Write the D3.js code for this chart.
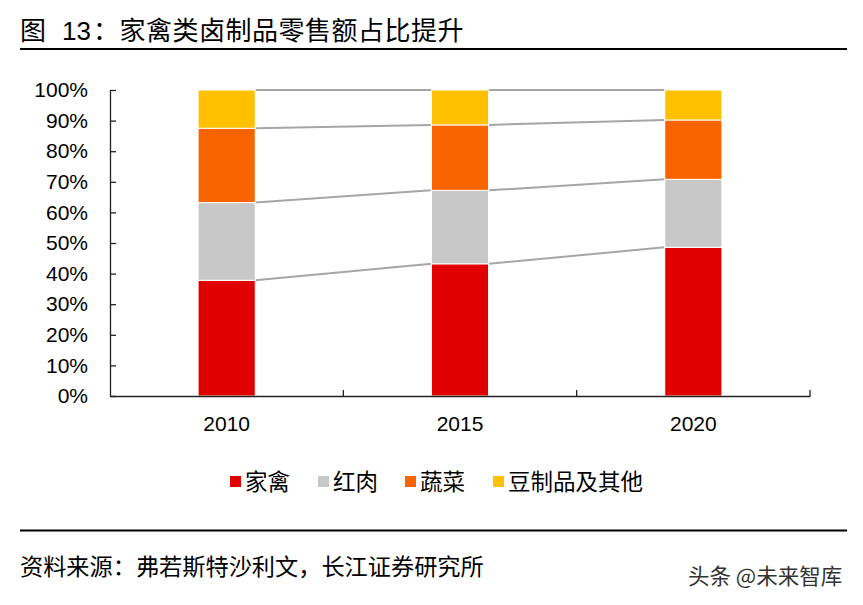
<!DOCTYPE html>
<html><head><meta charset="utf-8">
<script src="https://cdn.jsdelivr.net/npm/d3@7"></script>
<style>body{margin:0;background:#fff;} svg{display:block;}</style>
</head><body>
<svg id="c" width="863" height="605"></svg>
<script>
const years = ["2010", "2015", "2020"];
const seriesNames = ["家禽", "红肉", "蔬菜", "豆制品及其他"];
const poultry = [37.8, 43.2, 48.6];
const redMeat = [25.4, 24.0, 22.2];
const vegetables = [24.3, 21.4, 19.4];
const others = [12.5, 11.4, 9.8];
const yTicks = [0, 10, 20, 30, 40, 50, 60, 70, 80, 90, 100];
const colors = ["#E00000", "#C8C8C8", "#FA6400", "#FFC000"];

(function () {
const seriesVals = [poultry, redMeat, vegetables, others];
const rows = years.map((yr, i) => {
  const r = {year: yr};
  seriesNames.forEach((n, k) => r[n] = seriesVals[k][i]);
  return r;
});
const stacked = d3.stack().keys(seriesNames)(rows);

const svg = d3.select("#c");
const font = "'Liberation Sans', Arial, 'Noto Sans CJK SC', sans-serif";
const cjk = "'Noto Sans CJK SC', sans-serif";

// Title
const title = svg.append("text").attr("y", 40).attr("font-family", cjk)
  .attr("font-size", 26).attr("fill", "#000");
title.append("tspan").attr("x", 20).text("图");
title.append("tspan").attr("x", 62).attr("font-family", font).text("13");
title.append("tspan").attr("x", 93).attr("letter-spacing", 0.5).text("：家禽类卤制品零售额占比提升");
svg.append("line").attr("x1", 20).attr("x2", 847).attr("y1", 49).attr("y2", 49)
  .attr("stroke", "#000").attr("stroke-width", 2.2);

const pL = 110, pR = 810, pT = 90, pB = 396;
const x = d3.scaleBand().domain(years).range([pL, pR]).paddingInner(0.755).paddingOuter(0.3775);
const y = d3.scaleLinear().domain([0, 100]).range([pB, pT]);

// Connector lines
const bw = x.bandwidth();
const g = svg.append("g");
stacked.forEach(s => {
  for (let i = 0; i < years.length - 1; i++) {
    g.append("line")
      .attr("x1", x(years[i]) + bw).attr("y1", y(s[i][1]))
      .attr("x2", x(years[i + 1])).attr("y2", y(s[i + 1][1]))
      .attr("stroke", "#A6A6A6").attr("stroke-width", 2);
  }
});

// Bars
stacked.forEach((s, k) => {
  g.selectAll(null).data(s).enter().append("rect")
    .attr("x", d => x(d.data.year))
    .attr("y", d => y(d[1]))
    .attr("width", bw)
    .attr("height", d => y(d[0]) - y(d[1]))
    .attr("fill", colors[k])
    .attr("stroke", "#fff").attr("stroke-width", 1);
});

// Y axis
const yAxis = svg.append("g").attr("transform", `translate(${pL},0)`)
  .call(d3.axisLeft(y).tickValues(yTicks).tickFormat(d => d + "%").tickSizeInner(-6).tickSizeOuter(0).tickPadding(22));
yAxis.select(".domain").attr("stroke", "#222").attr("stroke-width", 1.3);
yAxis.selectAll(".tick line").attr("stroke", "#222").attr("stroke-width", 1.3);
yAxis.selectAll("text").attr("font-family", font).attr("font-size", 21).attr("fill", "#000");

// X axis
const xAxis = svg.append("g").attr("transform", `translate(0,${pB})`)
  .call(d3.axisBottom(x).tickSize(0).tickPadding(20));
xAxis.select(".domain").attr("stroke", "#222").attr("stroke-width", 1.3);
xAxis.selectAll("text").attr("font-family", font).attr("font-size", 21).attr("fill", "#000");
// category boundary ticks
const bounds = d3.range(years.length + 1).map(i => pL + i * (pR - pL) / years.length);
svg.append("g").selectAll("line").data(bounds.slice(1)).enter().append("line")
  .attr("x1", d => d).attr("x2", d => d).attr("y1", pB).attr("y2", pB - 6)
  .attr("stroke", "#222").attr("stroke-width", 1.3);

// Legend
const legX = [230, 318, 405, 493];
const leg = svg.append("g");
seriesNames.forEach((n, k) => {
  leg.append("rect").attr("x", legX[k]).attr("y", 476).attr("width", 11).attr("height", 11).attr("fill", colors[k]);
  leg.append("text").attr("x", legX[k] + 15).attr("y", 490).attr("font-family", cjk)
    .attr("font-size", 22.5).attr("fill", "#000").text(n);
});

// Footer
svg.append("line").attr("x1", 20).attr("x2", 847).attr("y1", 530.5).attr("y2", 530.5)
  .attr("stroke", "#000").attr("stroke-width", 2.2);
svg.append("text").attr("x", 20).attr("y", 575).attr("font-family", cjk)
  .attr("font-size", 23.2).attr("fill", "#000").text("资料来源：弗若斯特沙利文，长江证券研究所");
svg.append("text").attr("x", 688).attr("y", 584).attr("font-family", cjk)
  .attr("font-size", 21.5).attr("fill", "#333").text("头条 @未来智库");
})();
</script>
</body></html>
